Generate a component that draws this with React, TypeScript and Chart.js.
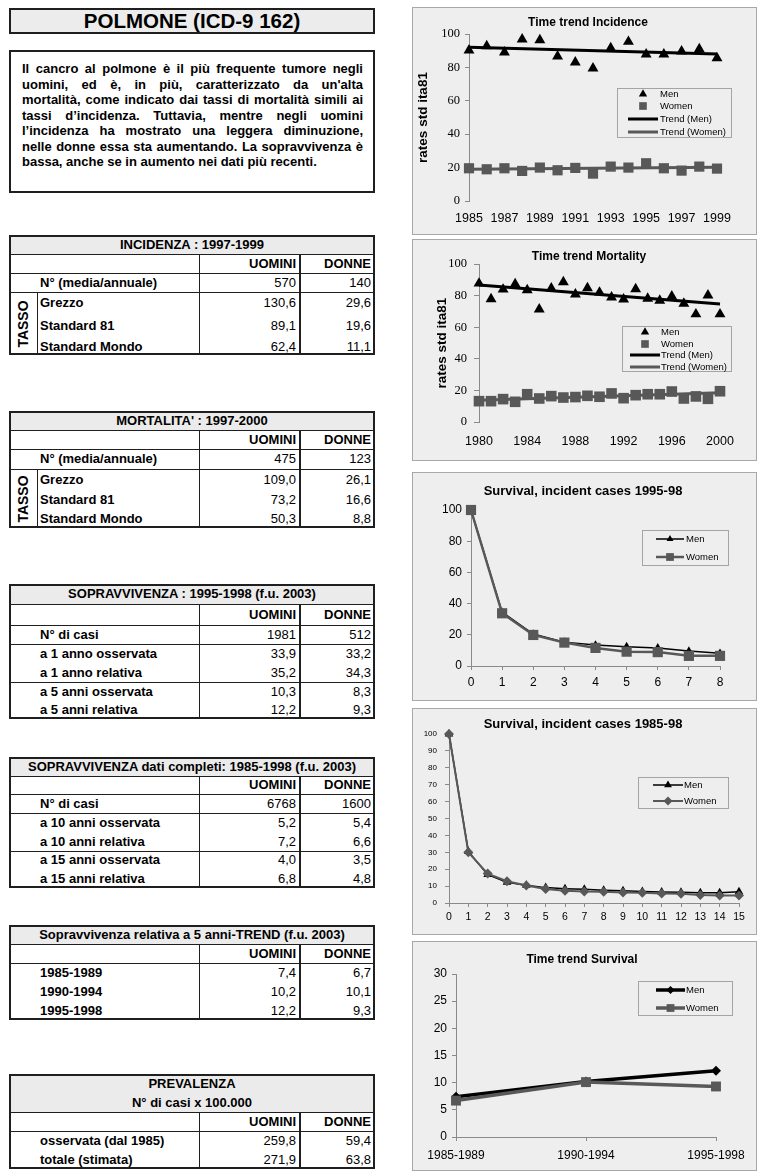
import React, { useEffect, useRef } from "react";
import { Chart, registerables } from "chart.js";
Chart.register(...registerables);

// ---------------- DATA ----------------
const incYears = [1985, 1986, 1987, 1988, 1989, 1990, 1991, 1992, 1993, 1994, 1995, 1996, 1997, 1998, 1999];
const incMen = [90.2, 92.8, 89.0, 96.8, 96.4, 86.6, 83.0, 79.4, 91.6, 95.4, 87.8, 87.8, 89.6, 91.0, 85.6];
const incWomen = [19.6, 19.0, 19.6, 18.0, 20.0, 18.4, 19.8, 16.4, 20.6, 20.0, 22.6, 19.6, 18.2, 20.6, 19.4];
const incTrendYears = [1985, 1999];
const incTrendMen = [92.0, 88.0];
const incTrendWomen = [19.0, 20.2];
const incXTicks = [1985, 1987, 1989, 1991, 1993, 1995, 1997, 1999];

const mortYears = [1980, 1981, 1982, 1983, 1984, 1985, 1986, 1987, 1988, 1989, 1990, 1991, 1992, 1993, 1994, 1995, 1996, 1997, 1998, 1999, 2000];
const mortMen = [87.8, 77.9, 84.0, 87.4, 83.6, 71.4, 84.7, 88.7, 80.9, 84.9, 82.1, 79.0, 77.7, 84.2, 78.2, 76.9, 79.6, 75.0, 68.3, 80.3, 68.3];
const mortWomen = [13.2, 13.2, 14.5, 12.8, 17.6, 14.9, 16.4, 15.5, 15.8, 16.6, 16.0, 18.1, 15.1, 17.0, 17.6, 17.6, 19.3, 14.9, 16.2, 14.7, 19.5];
const mortTrendYears = [1980, 2000];
const mortTrendMen = [86.8, 74.8];
const mortTrendWomen = [13.8, 18.6];
const mortXTicks = [1980, 1984, 1988, 1992, 1996, 2000];

const surv9598Years = ["0", "1", "2", "3", "4", "5", "6", "7", "8"];
const surv9598Men = [100, 34.5, 20.5, 15.3, 13.5, 12.4, 11.6, 9.6, 8.2];
const surv9598Women = [100, 33.8, 19.9, 15.0, 11.6, 9.2, 8.9, 6.5, 6.5];

const surv8598Years = ["0", "1", "2", "3", "4", "5", "6", "7", "8", "9", "10", "11", "12", "13", "14", "15"];
const surv8598Men = [100, 30.5, 16.8, 12.3, 10.5, 9.1, 8.5, 8.1, 7.6, 7.2, 6.8, 6.5, 6.3, 6.1, 6.1, 6.6];
const surv8598Women = [100, 30.0, 17.4, 12.9, 10.3, 8.3, 7.3, 6.8, 6.6, 6.2, 6.0, 5.6, 5.4, 4.7, 4.5, 4.5];

const trendPeriods = ["1985-1989", "1990-1994", "1995-1998"];
const trendMen = [7.4, 10.2, 12.2];
const trendWomen = [6.7, 10.1, 9.3];

// table texts
const pageTitle = "POLMONE (ICD-9 162)";
const descLines = [
  "Il cancro al polmone è il più frequente tumore negli",
  "uomini, ed è, in più, caratterizzato da un'alta",
  "mortalità, come indicato dai tassi di mortalità simili ai",
  "tassi d’incidenza. Tuttavia, mentre negli uomini",
  "l’incidenza ha mostrato una leggera diminuzione,",
  "nelle donne essa sta aumentando. La sopravvivenza è",
  "bassa, anche se in aumento nei dati più recenti.",
];
const incLabels = ["N° (media/annuale)", "Grezzo", "Standard 81", "Standard Mondo"];
const incUomini = ["570", "130,6", "89,1", "62,4"];
const incDonne = ["140", "29,6", "19,6", "11,1"];
const mortLabels = ["N° (media/annuale)", "Grezzo", "Standard 81", "Standard Mondo"];
const mortUomini = ["475", "109,0", "73,2", "50,3"];
const mortDonne = ["123", "26,1", "16,6", "8,8"];
const soprLabels = ["N° di casi", "a 1 anno osservata", "a 1 anno relativa", "a 5 anni osservata", "a 5 anni relativa"];
const soprUomini = ["1981", "33,9", "35,2", "10,3", "12,2"];
const soprDonne = ["512", "33,2", "34,3", "8,3", "9,3"];
const complLabels = ["N° di casi", "a 10 anni osservata", "a 10 anni relativa", "a 15 anni osservata", "a 15 anni relativa"];
const complUomini = ["6768", "5,2", "7,2", "4,0", "6,8"];
const complDonne = ["1600", "5,4", "6,6", "3,5", "4,8"];
const prevLabels = ["osservata (dal 1985)", "totale (stimata)"];
const prevUomini = ["259,8", "271,9"];
const prevDonne = ["59,4", "63,8"];

// ---------------- STYLE ----------------
const SANS = '"Liberation Sans", Arial, Helvetica, sans-serif';
const SERIF = '"Liberation Serif", "Times New Roman", serif';
const BLACK = "#000000";
const GRAY = "#585858";
const AXIS = "#8a8a8a";
const CHART_BG = "#eeeeee";

Chart.defaults.font.family = SANS;
Chart.defaults.color = "#000";

const fmt = (v: number) => v.toFixed(1).replace(".", ",");
const pts = (xs: number[], ys: number[]) => xs.map((x, i) => ({ x, y: ys[i] }));

function ds(label: string, data: any[], o: any) {
  return {
    label,
    data,
    borderColor: o.color,
    backgroundColor: o.color,
    pointBackgroundColor: o.color,
    pointBorderColor: o.color,
    pointBorderWidth: 0,
    pointStyle: o.point || "circle",
    pointRadius: o.r ?? 0,
    borderWidth: o.lw ?? 0,
    showLine: o.line !== false,
    tension: 0,
    clip: false,
    fill: false,
    order: o.order ?? 0,
  };
}

function drawMarker(ctx: CanvasRenderingContext2D, style: string, x: number, y: number, r: number, color: string) {
  ctx.fillStyle = color;
  ctx.beginPath();
  if (style === "triangle") {
    ctx.moveTo(x, y - r);
    ctx.lineTo(x + r * 0.866, y + r / 2);
    ctx.lineTo(x - r * 0.866, y + r / 2);
  } else if (style === "rect") {
    const s = r * Math.SQRT1_2;
    ctx.rect(x - s, y - s, 2 * s, 2 * s);
  } else if (style === "rectRot") {
    ctx.moveTo(x, y - r);
    ctx.lineTo(x + r, y);
    ctx.lineTo(x, y + r);
    ctx.lineTo(x - r, y);
  } else {
    ctx.arc(x, y, r, 0, Math.PI * 2);
  }
  ctx.closePath();
  ctx.fill();
}

function frameworkPlugin(F: any) {
  return {
    id: "boxLegend",
    afterLayout(chart: any) {
      const tb = chart.titleBlock;
      if (tb) {
        const w = tb.right - tb.left;
        tb.left = F.titleX - w / 2;
        tb.right = F.titleX + w / 2;
      }
    },
    afterDraw(chart: any) {
      const L = F.legend;
      const ctx: CanvasRenderingContext2D = chart.ctx;
      const [bx, by, bw, bh] = L.box;
      ctx.save();
      ctx.fillStyle = CHART_BG;
      ctx.fillRect(bx, by, bw, bh);
      ctx.strokeStyle = "#a4a4a4";
      ctx.lineWidth = 1;
      ctx.strokeRect(bx + 0.5, by + 0.5, bw - 1, bh - 1);
      chart.data.datasets.forEach((d: any, i: number) => {
        const cy = L.rows[i];
        const [x0, x1] = L.line;
        const cx = (x0 + x1) / 2;
        if (d.showLine !== false && d.borderWidth > 0) {
          ctx.strokeStyle = d.borderColor;
          ctx.lineWidth = d.borderWidth;
          ctx.beginPath();
          ctx.moveTo(x0, cy);
          ctx.lineTo(x1, cy);
          ctx.stroke();
        }
        if (d.pointRadius > 0) drawMarker(ctx, d.pointStyle, cx, cy, L.marker[i], d.pointBackgroundColor);
        ctx.fillStyle = "#000";
        ctx.font = `${L.font}px ${SANS}`;
        ctx.textBaseline = "middle";
        ctx.textAlign = "left";
        ctx.fillText(d.label, L.textX, cy);
      });
      ctx.restore();
    },
  };
}

function makeConfig(F: any, data: any, xOpts: any, yOpts: any) {
  const W = F.box[2] - 2;
  const H = F.box[3] - 2;
  const [l, t, r, b] = F.plot;
  const tlh = F.titleSize * 1.2;
  const ys = 13.5;
  const yTitle = F.yTitle
    ? {
        display: true,
        text: F.yTitle,
        color: "#000",
        font: { family: SANS, size: ys, weight: "bold", lineHeight: 1.2 },
        padding: { top: F.yTitleX - (ys * 1.2) / 2, bottom: 0 },
      }
    : { display: false };
  return {
    type: "line",
    data,
    options: {
      responsive: false,
      animation: false,
      devicePixelRatio: 1,
      events: [],
      layout: { padding: { left: 0, top: 0, right: W - r, bottom: 0 } },
      plugins: {
        legend: { display: false },
        tooltip: { enabled: false },
        title: {
          display: true,
          text: F.title,
          color: "#000",
          font: { family: SANS, size: F.titleSize, weight: "bold", lineHeight: 1.2 },
          padding: { top: F.titleY - tlh / 2, bottom: Math.max(0, t - F.titleY - tlh / 2) },
        },
      },
      scales: {
        x: { ...xOpts, afterFit: (s: any) => { s.height = H - b; } },
        y: { ...yOpts, title: yTitle, afterFit: (s: any) => { s.width = l; } },
      },
    },
    plugins: [frameworkPlugin(F)],
  };
}

const yAxis = (min: number, max: number, step: number, font: any, tick: number, pad: number) => ({
  type: "linear",
  min,
  max,
  ticks: { stepSize: step, font, color: "#000", padding: pad },
  grid: { display: true, drawOnChartArea: false, drawTicks: true, tickLength: tick, color: AXIS },
  border: { display: true, color: AXIS, width: 1 },
});

// ---------------- CHART FRAMES (layout only) ----------------
const F1 = {
  title: "Time trend Incidence", box: [412, 7, 345, 228], plot: [56, 26, 304, 193],
  titleX: 175, titleY: 15, titleSize: 12, yTitle: "rates std ita81", yTitleX: 10,
  legend: { box: [204, 80, 115, 50], rows: [86, 98, 111, 124], line: [215, 245], textX: 247, font: 9.5, marker: [4.8, 5.4, 0, 0] },
};
const F2 = {
  title: "Time trend Mortality", box: [412, 239, 345, 222], plot: [66, 24, 307, 182],
  titleX: 176, titleY: 17, titleSize: 12, yTitle: "rates std ita81", yTitleX: 29,
  legend: { box: [209, 86, 110, 46], rows: [92, 104, 115, 127], line: [217, 247], textX: 248, font: 9.5, marker: [4.8, 5.4, 0, 0] },
};
const F3 = {
  title: "Survival, incident cases 1995-98", box: [412, 472, 345, 229], plot: [58, 37, 307, 193],
  titleX: 170, titleY: 18, titleSize: 13,
  legend: { box: [229, 57, 87, 36], rows: [66, 84], line: [243, 271], textX: 273, font: 9.5, marker: [4, 5.5] },
};
const F4 = {
  title: "Survival, incident cases 1985-98", box: [412, 708, 345, 227], plot: [36, 25, 326, 194],
  titleX: 170, titleY: 15, titleSize: 13,
  legend: { box: [225, 68, 91, 32], rows: [76, 92], line: [240, 270], textX: 271, font: 9.5, marker: [4.5, 4.5] },
};
const F5 = {
  title: "Time trend Survival", box: [412, 941, 345, 230], plot: [43, 32, 303, 195],
  titleX: 169, titleY: 18, titleSize: 12,
  legend: { box: [225, 39, 95, 35], rows: [48, 66], line: [243, 272], textX: 273, font: 9.5, marker: [4, 5.5] },
};

function buildConfigs() {
  const xYears = (min: number, max: number, ticks: number[], pad: number) => ({
    type: "linear",
    min,
    max,
    afterBuildTicks: (s: any) => { s.ticks = ticks.map((value) => ({ value })); },
    ticks: { font: { family: SANS, size: 12.5 }, color: "#000", padding: pad, callback: (v: any) => String(v), maxRotation: 0, autoSkip: false },
    grid: { display: false },
    border: { display: false },
  });
  const xCat = (size: number, pad: number) => ({
    type: "category",
    offset: false,
    ticks: { font: { family: SANS, size }, color: "#000", padding: pad, maxRotation: 0, autoSkip: false },
    grid: { display: true, drawOnChartArea: false, drawTicks: true, tickLength: 4, color: AXIS, offset: false },
    border: { display: true, color: AXIS, width: 1 },
  });

  const c1 = makeConfig(
    F1,
    {
      datasets: [
        ds("Men", pts(incYears, incMen), { color: BLACK, point: "triangle", r: 6.3, line: false, order: 0 }),
        ds("Women", pts(incYears, incWomen), { color: GRAY, point: "rect", r: 7.2, line: false, order: 0 }),
        ds("Trend (Men)", pts(incTrendYears, incTrendMen), { color: BLACK, lw: 3, order: 2 }),
        ds("Trend (Women)", pts(incTrendYears, incTrendWomen), { color: GRAY, lw: 3, order: 2 }),
      ],
    },
    xYears(1985, 1999, incXTicks, 2),
    yAxis(0, 100, 20, { family: SERIF, size: 12.5 }, 4, 5)
  );
  const c2 = makeConfig(
    F2,
    {
      datasets: [
        ds("Men", pts(mortYears, mortMen), { color: BLACK, point: "triangle", r: 6.3, line: false, order: 0 }),
        ds("Women", pts(mortYears, mortWomen), { color: GRAY, point: "rect", r: 7.5, line: false, order: 0 }),
        ds("Trend (Men)", pts(mortTrendYears, mortTrendMen), { color: BLACK, lw: 3, order: 2 }),
        ds("Trend (Women)", pts(mortTrendYears, mortTrendWomen), { color: GRAY, lw: 3, order: 2 }),
      ],
    },
    xYears(1980, 2000, mortXTicks, 4),
    yAxis(0, 100, 20, { family: SERIF, size: 12.5 }, 5, 7)
  );
  const c3 = makeConfig(
    F3,
    {
      labels: surv9598Years,
      datasets: [
        ds("Men", surv9598Men, { color: BLACK, point: "triangle", r: 4.8, lw: 1.5, order: 1 }),
        ds("Women", surv9598Women, { color: GRAY, point: "rect", r: 7.2, lw: 2.5, order: 0 }),
      ],
    },
    xCat(12, 5),
    yAxis(0, 100, 10, { family: SANS, size: 12 }, 4, 5)
  );
  const c4 = makeConfig(
    F4,
    {
      labels: surv8598Years,
      datasets: [
        ds("Men", surv8598Men, { color: BLACK, point: "triangle", r: 5, lw: 1.5, order: 1 }),
        ds("Women", surv8598Women, { color: GRAY, point: "rectRot", r: 5, lw: 2, order: 0 }),
      ],
    },
    xCat(10.5, 4),
    yAxis(0, 100, 10, { family: SANS, size: 8 }, 4, 8)
  );
  const c5 = makeConfig(
    F5,
    {
      labels: trendPeriods,
      datasets: [
        ds("Men", trendMen, { color: BLACK, point: "rectRot", r: 5, lw: 3.5, order: 1 }),
        ds("Women", trendWomen, { color: GRAY, point: "rect", r: 7, lw: 3.5, order: 0 }),
      ],
    },
    xCat(12, 7),
    yAxis(0, 30, 5, { family: SANS, size: 12 }, 4, 5)
  );
  return [
    { F: F1, cfg: c1 },
    { F: F2, cfg: c2 },
    { F: F3, cfg: c3 },
    { F: F4, cfg: c4 },
    { F: F5, cfg: c5 },
  ];
}

function ChartBox({ F, cfg }: any) {
  const ref = useRef<HTMLCanvasElement | null>(null);
  useEffect(() => {
    const chart = new Chart(ref.current as HTMLCanvasElement, cfg);
    return () => chart.destroy();
  }, []);
  const [x, y, w, h] = F.box;
  return (
    <div
      style={{
        position: "absolute", left: x, top: y, width: w, height: h,
        background: CHART_BG, border: "1px solid #a8a8a8", boxSizing: "border-box",
      }}
    >
      <canvas ref={ref} width={w - 2} height={h - 2} style={{ display: "block", width: w - 2, height: h - 2 }} />
    </div>
  );
}

// ---------------- TABLES ----------------
const TL = 9, TR = 375, C1 = 199, C2 = 300;
const LINE = "#1f1f1f";

function DataTable(p: any) {
  const W = TR - TL;
  const els: any[] = [];
  let y = p.top;
  const abs = (s: any) => ({ position: "absolute", ...s });
  els.push(<div key="tbg" style={abs({ left: TL, top: y, width: W, height: p.titleH, background: "#ebebeb" })} />);
  const n = p.title.length;
  p.title.forEach((t: string, i: number) =>
    els.push(
      <div key={"tt" + i} style={abs({ left: TL, width: W, top: y + (i * p.titleH) / n, height: p.titleH / n, lineHeight: p.titleH / n + "px", textAlign: "center", fontWeight: "bold", fontSize: 13, whiteSpace: "nowrap" })}>
        {t}
      </div>
    )
  );
  y += p.titleH;
  els.push(<div key="h0" style={abs({ left: TL, top: y - 0.5, width: W, height: 1, background: LINE })} />);
  const headTop = y;
  els.push(<div key="hu" style={abs({ left: C1, top: y, width: 296 - C1, height: p.headerH, lineHeight: p.headerH + "px", textAlign: "right", fontWeight: "bold", fontSize: 13 })}>UOMINI</div>);
  els.push(<div key="hd" style={abs({ left: C2, top: y, width: 371 - C2, height: p.headerH, lineHeight: p.headerH + "px", textAlign: "right", fontWeight: "bold", fontSize: 13 })}>DONNE</div>);
  y += p.headerH;
  els.push(<div key="h1" style={abs({ left: TL, top: y - 0.5, width: W, height: 1, background: LINE })} />);
  let idx = 0;
  p.groups.forEach((g: number[], gi: number) => {
    const gTop = y;
    g.forEach((h: number) => {
      const k = idx;
      els.push(<div key={"l" + k} style={abs({ left: 40, top: y, height: h, lineHeight: h + "px", fontWeight: "bold", fontSize: 13, whiteSpace: "nowrap" })}>{p.labels[k]}</div>);
      els.push(<div key={"u" + k} style={abs({ left: C1, top: y, width: 296 - C1, height: h, lineHeight: h + "px", textAlign: "right", fontSize: 13 })}>{p.uomini[k]}</div>);
      els.push(<div key={"d" + k} style={abs({ left: C2, top: y, width: 371 - C2, height: h, lineHeight: h + "px", textAlign: "right", fontSize: 13 })}>{p.donne[k]}</div>);
      y += h;
      idx++;
    });
    if (gi < p.groups.length - 1) els.push(<div key={"g" + gi} style={abs({ left: TL, top: y - 0.5, width: W, height: 1, background: LINE })} />);
    if (p.tasso === gi) {
      els.push(<div key="tv" style={abs({ left: 36.5, top: gTop, width: 1, height: y - gTop, background: LINE })} />);
      els.push(
        <div key="tx" style={abs({ left: 23, top: (gTop + y) / 2, transform: "translate(-50%, -50%) rotate(-90deg)", fontWeight: "bold", fontSize: 14, whiteSpace: "nowrap", lineHeight: "14px" })}>
          TASSO
        </div>
      );
    }
  });
  els.push(<div key="v1" style={abs({ left: C1 - 0.5, top: headTop, width: 1, height: y - headTop, background: LINE })} />);
  els.push(<div key="v2" style={abs({ left: C2 - 1, top: headTop, width: 2, height: y - headTop, background: LINE })} />);
  els.push(<div key="ob" style={abs({ left: TL, top: p.top, width: W, height: y - p.top, border: "2px solid " + LINE, boxSizing: "border-box" })} />);
  return <>{els}</>;
}

export default function App() {
  const charts = buildConfigs();
  return (
    <div style={{ position: "absolute", left: 0, top: 0, width: 761, height: 1176, background: "#fff", fontFamily: SANS, color: "#000" }}>
      <div
        style={{
          position: "absolute", left: 9, top: 8, width: 366, height: 26, border: "2px solid " + LINE,
          boxSizing: "border-box", background: "#ececec", textAlign: "center", fontWeight: "bold",
          fontSize: 20.5, lineHeight: "22px", whiteSpace: "nowrap",
        }}
      >
        {pageTitle}
      </div>
      <div
        style={{
          position: "absolute", left: 9, top: 50, width: 366, height: 143, border: "2px solid " + LINE,
          boxSizing: "border-box", padding: "9px 10px 0 11px", fontFamily: SANS,
          fontWeight: "bold", fontSize: 13, lineHeight: "15.5px",
        }}
      >
        {descLines.map((t, i) => (
          <div key={i} style={{ textAlign: "justify", textAlignLast: i < descLines.length - 1 ? "justify" : "left" } as any}>
            {t}
          </div>
        ))}
      </div>

      <DataTable top={235} title={["INCIDENZA : 1997-1999"]} titleH={19} headerH={19} groups={[[19], [21, 26, 16]]} tasso={1} labels={incLabels} uomini={incUomini} donne={incDonne} />
      <DataTable top={411} title={["MORTALITA' : 1997-2000"]} titleH={19} headerH={19} groups={[[20], [22, 18, 19]]} tasso={1} labels={mortLabels} uomini={mortUomini} donne={mortDonne} />
      <DataTable top={584} title={["SOPRAVVIVENZA : 1995-1998 (f.u. 2003)"]} titleH={20} headerH={21} groups={[[19], [19, 19], [19, 18]]} labels={soprLabels} uomini={soprUomini} donne={soprDonne} />
      <DataTable top={757} title={["SOPRAVVIVENZA dati completi: 1985-1998 (f.u. 2003)"]} titleH={19} headerH={18} groups={[[19], [19, 19], [18, 19]]} labels={complLabels} uomini={complUomini} donne={complDonne} />
      <DataTable top={925} title={["Sopravvivenza relativa a 5 anni-TREND (f.u. 2003)"]} titleH={19} headerH={19} groups={[[19, 19, 19]]} labels={trendPeriods} uomini={trendMen.map(fmt)} donne={trendWomen.map(fmt)} />
      <DataTable top={1074} title={["PREVALENZA", "N° di casi x 100.000"]} titleH={38} headerH={19} groups={[[19, 19]]} labels={prevLabels} uomini={prevUomini} donne={prevDonne} />

      {charts.map((c, i) => (
        <ChartBox key={i} F={c.F} cfg={c.cfg} />
      ))}
    </div>
  );
}
